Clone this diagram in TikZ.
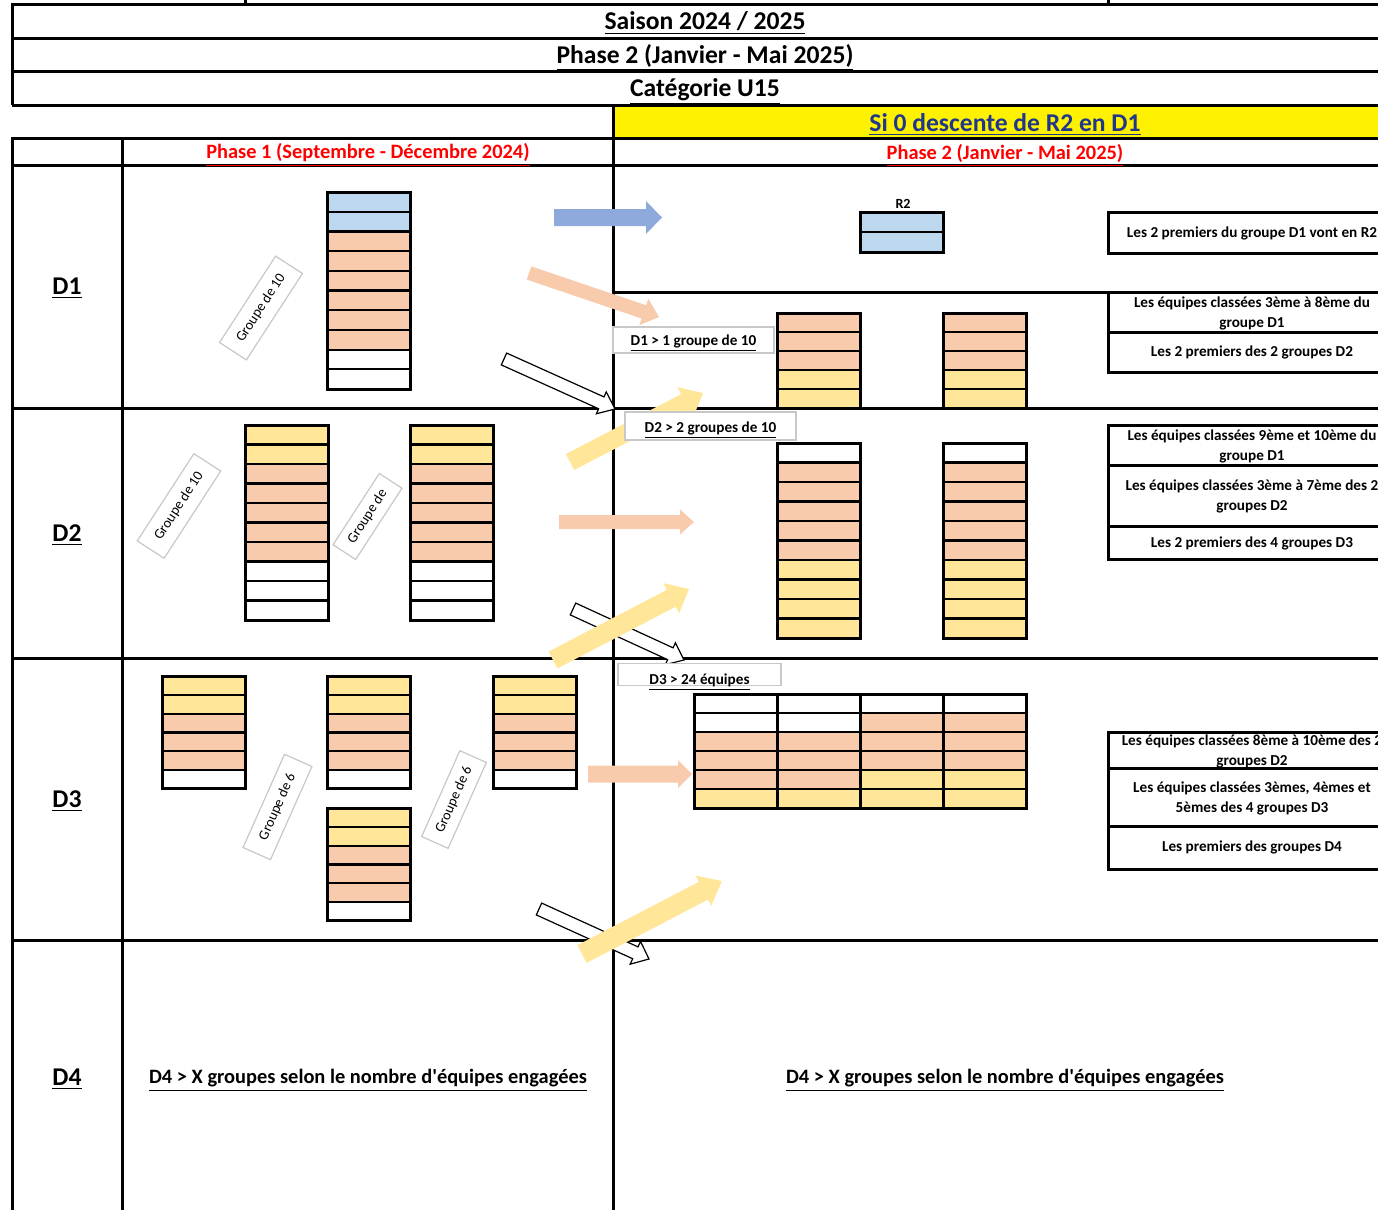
\documentclass[tikz,border=0pt]{standalone}
\usepackage{fontspec}
\setmainfont{Carlito}
\usetikzlibrary{calc}
\definecolor{cblue}{HTML}{BDD7EE}
\definecolor{cpeach}{HTML}{F8CBAD}
\definecolor{cyell}{HTML}{FFE699}
\definecolor{arrblue}{HTML}{8EA9DB}
\definecolor{navy}{RGB}{32,56,140}
\definecolor{lblgray}{HTML}{C8C8C8}
\colorlet{W}{white}
\colorlet{P}{cpeach}
\colorlet{Y}{cyell}
\colorlet{B}{cblue}
% #1 x left, #2 y top, #3 row height, #4 number of rows, #5 colours
\newcommand\teamcol[5]{%
  \foreach \c [count=\i from 0] in {#5}{\fill[\c] ({#1},{#2+\i*#3}) rectangle ++(83,#3);}
  \foreach \c [count=\i from 0] in {#5}{\draw[rowline] ({#1},{#2+\i*#3}) rectangle ++(83,#3);}
  \draw[colline] (#1,#2) rectangle ++(83,{#4*#3});
}
% #1 style, #2 start, #3 tip, #4 shaft half width, #5 head half width, #6 head length
\newcommand\blockarr[6]{%
  \coordinate (bah) at ($(#3)!#6!(#2)$);
  \path[#1] ($(#2)!#4!90:(#3)$) -- ($(bah)!#4!90:(#3)$) -- ($(bah)!#5!90:(#3)$) -- (#3)
    -- ($(bah)!#5!-90:(#3)$) -- ($(bah)!#4!-90:(#3)$) -- ($(#2)!#4!-90:(#3)$) -- cycle;
}
\begin{document}
\begin{tikzpicture}[x=0.5pt,y=-0.5pt,
  tline/.style={line width=1.5pt},
  rowline/.style={line width=1.1pt},
  colline/.style={line width=1.5pt},
  rbox/.style={line width=1.5pt},
  title/.style={font=\fontsize{12.8}{15}\selectfont\bfseries, inner sep=0pt},
  phase/.style={font=\fontsize{10.2}{12}\selectfont\bfseries, text=red, inner sep=0pt},
  dfour/.style={font=\fontsize{10.2}{12}\selectfont\bfseries, inner sep=0pt},
  lbl/.style={draw=lblgray, line width=0.6pt, fill=white, font=\fontsize{7.6}{9}\selectfont\bfseries, inner sep=0pt},
  grp/.style={draw=lblgray, line width=0.6pt, fill=white, font=\fontsize{7.1}{9}\selectfont, inner sep=0pt},
  rtext/.style={font=\fontsize{7.6}{10}\selectfont\bfseries, align=center, inner sep=0pt},
  whitearr/.style={draw=black, fill=white, line width=0.6pt},
  peacharr/.style={fill=cpeach},
  yellarr/.style={fill=cyell},
  bluearr/.style={fill=arrblue}]
\useasboundingbox (0,0) rectangle (1378,1210);
\clip (0,0) rectangle (1378,1210);

% yellow bar
\fill[yellow] (613,106) rectangle (1400,138);

% table lines
\draw[tline] (245,-5) -- (245,4);
\draw[tline] (1108,-5) -- (1108,4);
\draw[tline] (12,4) -- (1400,4);
\draw[tline] (12,38) -- (1400,38);
\draw[tline] (12,71) -- (1400,71);
\draw[tline] (12,105) -- (1400,105);
\draw[tline] (12,3) -- (12,105);
\draw[tline] (12,138) -- (1400,138);
\draw[tline] (12,165) -- (1400,165);
\draw[tline] (12,408) -- (1400,408);
\draw[tline] (12,658) -- (1400,658);
\draw[tline] (12,940) -- (1400,940);
\draw[tline] (613,292) -- (1400,292);
\draw[tline] (12,137) -- (12,1215);
\draw[tline] (122,137) -- (122,1215);
\draw[tline] (613,105) -- (613,1215);

% titles
\node[title] (saison) at (705,23.5) {\underline{Saison 2024 / 2025}};
\node[title] (ph2t) at (705,57.5) {\underline{Phase 2 (Janvier - Mai 2025)}};
\node[title] (cat) at (705,91.5) {\underline{Catégorie U15}};
\node[title, text=navy] (si0) at (1005,124.5) {\underline{Si 0 descente de R2 en D1}};
\node[phase] (ph1h) at (368,155) {\underline{Phase 1 (Septembre - Décembre 2024)}};
\node[phase] (ph2h) at (1005,155) {\underline{Phase 2 (Janvier - Mai 2025)}};
\node[title] (d1) at (67,288.5) {\underline{D1}};
\node[title] (d2) at (67,535.5) {\underline{D2}};
\node[title] (d3) at (67,801.5) {\underline{D3}};
\node[title] (d4) at (67,1079.5) {\underline{D4}};
\node[dfour] (d4l) at (368,1080.5) {\underline{D4 > X groupes selon le nombre d\textquotesingle équipes engagées}};
\node[dfour] (d4r) at (1005,1080.5) {\underline{D4 > X groupes selon le nombre d\textquotesingle équipes engagées}};

% phase 1 columns
\teamcol{327}{192}{19.7}{10}{B,B,P,P,P,P,P,P,W,W}
\teamcol{245}{425}{19.5}{10}{Y,Y,P,P,P,P,P,W,W,W}
\teamcol{410}{425}{19.5}{10}{Y,Y,P,P,P,P,P,W,W,W}
\teamcol{162}{676}{18.8}{6}{Y,Y,P,P,P,W}
\teamcol{327}{676}{18.8}{6}{Y,Y,P,P,P,W}
\teamcol{493}{676}{18.8}{6}{Y,Y,P,P,P,W}
\teamcol{327}{808}{18.8}{6}{Y,Y,P,P,P,W}

% phase 2 columns
\node[font=\fontsize{7}{8}\selectfont\bfseries, inner sep=0pt] (r2lbl) at (903,204) {R2};
\teamcol{860}{212}{20}{2}{B,B}
\teamcol{777}{313}{19}{5}{P,P,P,Y,Y}
\teamcol{943}{313}{19}{5}{P,P,P,Y,Y}
\teamcol{777}{443}{19.5}{10}{W,P,P,P,P,P,Y,Y,Y,Y}
\teamcol{943}{443}{19.5}{10}{W,P,P,P,P,P,Y,Y,Y,Y}
\teamcol{694}{694}{19}{6}{W,W,P,P,P,Y}
\teamcol{777}{694}{19}{6}{W,W,P,P,P,Y}
\teamcol{860}{694}{19}{6}{W,P,P,P,Y,Y}
\teamcol{943}{694}{19}{6}{W,P,P,P,Y,Y}

% right explanation boxes
\draw[rbox] (1108,212) rectangle (1400,253);
\draw[rbox] (1108,292) rectangle (1400,372);
\draw[rbox] (1108,332) -- (1400,332);
\draw[rbox] (1108,425) rectangle (1400,559);
\draw[rbox] (1108,465) -- (1400,465);
\draw[rbox] (1108,526) -- (1400,526);
\draw[rbox] (1108,732) rectangle (1400,869);
\draw[rbox] (1108,768) -- (1400,768);
\draw[rbox] (1108,826) -- (1400,826);
\node[rtext] (r1) at (1252,233) {Les 2 premiers du groupe D1 vont en R2};
\node[rtext] (r2a) at (1252,313) {Les équipes classées 3ème à 8ème du\\groupe D1};
\node[rtext] (r2b) at (1252,352) {Les 2 premiers des 2 groupes D2};
\node[rtext] (r3a) at (1252,446) {Les équipes classées 9ème et 10ème du\\groupe D1};
\node[rtext] (r3b) at (1252,496) {Les équipes classées 3ème à 7ème des 2\\groupes D2};
\node[rtext] (r3c) at (1252,543) {Les 2 premiers des 4 groupes D3};
\node[rtext] (r4a) at (1252,751) {Les équipes classées 8ème à 10ème des 2\\groupes D2};
\node[rtext] (r4b) at (1252,798) {Les équipes classées 3èmes, 4èmes et\\5èmes des 4 groupes D3};
\node[rtext] (r4c) at (1252,847) {Les premiers des groupes D4};

% arrows
\coordinate (a1s) at (554,217.5); \coordinate (a1e) at (662,217.5);
\coordinate (a2s) at (529,273);   \coordinate (a2e) at (659,317);
\coordinate (a3s) at (504,359);   \coordinate (a3e) at (615,409);
\coordinate (a4s) at (570,462);   \coordinate (a4e) at (703,393);
\coordinate (a5s) at (559,522);   \coordinate (a5e) at (694,522);
\coordinate (a6s) at (573,609);   \coordinate (a6e) at (684,660);
\coordinate (a7s) at (553,660);   \coordinate (a7e) at (689,589);
\coordinate (a8s) at (588,774);   \coordinate (a8e) at (692,774);
\coordinate (a9s) at (539,909);   \coordinate (a9e) at (649,959);
\coordinate (a10s) at (582,954);  \coordinate (a10e) at (722,881);

\blockarr{whitearr}{a3s}{a3e}{3.25pt}{6pt}{7.5pt}
\blockarr{whitearr}{a6s}{a6e}{3.25pt}{6pt}{7.5pt}
\blockarr{whitearr}{a9s}{a9e}{3.25pt}{6.25pt}{7.5pt}
\blockarr{bluearr}{a1s}{a1e}{4.25pt}{8.25pt}{8pt}
\blockarr{peacharr}{a2s}{a2e}{3.5pt}{7pt}{8pt}
\blockarr{peacharr}{a5s}{a5e}{3.5pt}{6.25pt}{7pt}
\blockarr{peacharr}{a8s}{a8e}{4.25pt}{7pt}{7pt}
\blockarr{yellarr}{a4s}{a4e}{4.5pt}{8.5pt}{10pt}
\blockarr{yellarr}{a7s}{a7e}{4.75pt}{8.5pt}{10pt}
\blockarr{yellarr}{a10s}{a10e}{5pt}{8.5pt}{10.5pt}

% labels
\node[lbl, minimum width=80.5pt, minimum height=13pt, text height=8.5pt, text depth=3pt] (l1) at (693.5,340) {\underline{D1 > 1 groupe de 10}};
\node[lbl, minimum width=85.5pt, minimum height=14pt, text height=9.5pt, text depth=3pt] (l2) at (710.5,426) {\underline{D2 > 2 groupes de 10}};
\node[lbl, minimum width=81.5pt, minimum height=11pt, text height=9.5pt, text depth=0pt] (l3) at (699.5,674.5) {\underline{D3 > 24 équipes}};

\node[grp, rotate=57, minimum width=51.5pt, minimum height=16pt] (g1) at (261,308) {Groupe de 10};
\node[grp, rotate=57, minimum width=52pt, minimum height=16pt] (g2) at (179,506) {Groupe de 10};
\node[grp, rotate=57, minimum width=42.5pt, minimum height=13.5pt] (g3) at (367.5,516.5) {Groupe de};
\node[grp, rotate=66, minimum width=51pt, minimum height=15pt] (g4) at (277.5,807) {Groupe de 6};
\node[grp, rotate=66, minimum width=47pt, minimum height=14.5pt] (g5) at (454,799.5) {Groupe de 6};
\end{tikzpicture}
\end{document}
